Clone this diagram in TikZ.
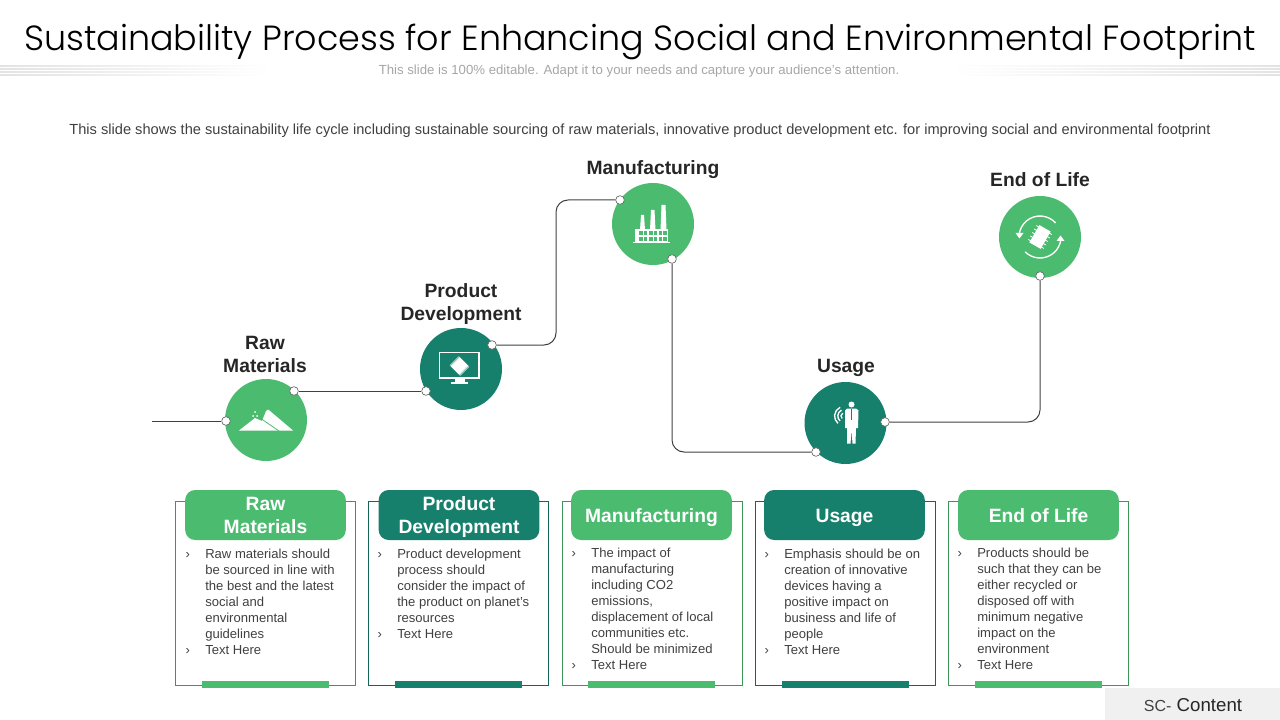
\documentclass[tikz,border=0pt]{standalone}
\usepackage{fontspec}
\setmainfont{Liberation Sans}
\newfontfamily\titlefont{Poppins Light}
\usetikzlibrary{positioning}
\definecolor{lightgreen}{HTML}{4BBB6F}
\definecolor{darkgreen}{HTML}{17806D}
\definecolor{bodygrey}{HTML}{404040}
\tikzstyle{vertex}=[circle,minimum size=61.5pt,inner sep=0pt]
\tikzstyle{port}=[circle,fill=white,draw=bodygrey!80,line width=0.5pt,minimum size=6.5pt,inner sep=0pt]
\tikzstyle{link}=[draw=bodygrey,line width=0.75pt,rounded corners=9pt]
\tikzstyle{caption}=[font=\bfseries\fontsize{14.45}{17.5}\selectfont,text=black!85,align=center]
\tikzstyle{head}=[font=\bfseries\fontsize{14.45}{17.5}\selectfont,text=white,align=center,rounded corners=7.5pt,minimum width=120.5pt,minimum height=37.5pt,inner sep=0pt]
\tikzstyle{body}=[font=\fontsize{9.8}{12}\selectfont,text=bodygrey,align=left,anchor=north west,inner sep=0pt]
\tikzstyle{icon}=[fill=white,draw=none]
\newcommand{\itm}{\leavevmode\makebox[0pt][r]{\raisebox{0.4pt}{›}\hspace{11.5pt}}}
\newcommand{\lstrut}{\rule[-3.35pt]{0pt}{17.5pt}}
\begin{document}
\begin{tikzpicture}[x=0.75pt,y=-0.75pt]
\useasboundingbox (0,0) rectangle (1280,720);

% title block
\foreach \y in {66,69,72,75} {
  \fill[left color=black!11,right color=white] (0,\y-0.5) rectangle (270,\y+0.5);
  \fill[right color=black!11,left color=white] (950,\y-0.5) rectangle (1280,\y+0.5);
}
\node (title) at (640,42) {\titlefont\fontsize{26.2}{32}\selectfont Sustainability Process for Enhancing Social and Environmental Footprint};
\node[text=black!35,font=\fontsize{9.9}{12}\selectfont] (sub) at (639,71) {This slide is 100\% editable. Adapt it to your needs and capture your audience’s attention.};
\node[text=bodygrey,font=\fontsize{10.97}{13}\selectfont] (intro) at (640,131) {This slide shows the sustainability life cycle including sustainable sourcing of raw materials, innovative product development etc. for improving social and environmental footprint};

% the circles and their captions
\foreach \pos/\name/\col in {{(266,420)/raw/lightgreen}, {(461,369)/prod/darkgreen}, {(653,224)/manu/lightgreen}, {(845.5,423)/use/darkgreen}, {(1040,237)/eol/lightgreen}}
    \node[vertex,fill=\col] (\name) at \pos {};
\node[caption] (capraw) at (265,353.5) {\lstrut Raw\\\lstrut Materials};
\node[caption] (capprod) at (461,301.5) {\lstrut Product\\\lstrut Development};
\node[caption] (capmanu) at (653,167) {\lstrut Manufacturing};
\node[caption] (capuse) at (846,365) {\lstrut Usage};
\node[caption] (capeol) at (1040,179) {\lstrut End of Life};

% ports and connectors
\coordinate (start) at (152,421);
\coordinate (bend) at (556,270);
\foreach \pos/\name in {{(226,421)/rawin}, {(294,391)/rawout}, {(426,391)/prodin}, {(492,345)/prodout}, {(620,200)/manuin}, {(672,259)/manuout}, {(816,452)/usein}, {(885,422)/useout}, {(1040,276)/eolin}}
    \node[port] (\name) at \pos {};
\path[link] (start) -- (rawin);
\path[link] (rawout) -- (prodin);
\path[link] (prodout) -| (bend) |- (manuin);
\path[link] (manuout) |- (usein);
\path[link] (useout) -| (eolin);

% cards
\foreach \x/\hx/\bx/\name/\col/\label in {175/265.5/265/cardraw/lightgreen/{\lstrut Raw\\\lstrut Materials}, 368/459/458.5/cardprod/darkgreen/{\lstrut Product\\\lstrut Development}, 562/651.5/651.5/cardmanu/lightgreen/{\lstrut Manufacturing}, 755/844.5/845/carduse/darkgreen/{\lstrut Usage}, 948/1038.5/1038.5/cardeol/lightgreen/{\lstrut End of Life}} {
    \draw[\col!80!black,line width=0.6pt] (\x,501) rectangle (\x+180.5,685);
    \node[head,fill=\col] (\name) at (\hx,515) {\label};
    \fill[\col] (\bx-63.5,681) rectangle (\bx+63.5,688);
}

% card texts
\node[body] (txtraw) at (205,549) {\itm Raw materials should\\be sourced in line with\\the best and the latest\\social and\\environmental\\guidelines\\\itm Text Here};
\node[body] (txtprod) at (397,549) {\itm Product development\\process should\\consider the impact of\\the product on planet’s\\resources\\\itm Text Here};
\node[body] (txtmanu) at (591,548) {\itm The impact of\\manufacturing\\including CO2\\emissions,\\displacement of local\\communities etc.\\Should be minimized\\\itm Text Here};
\node[body] (txtuse) at (784,549) {\itm Emphasis should be on\\creation of innovative\\devices having a\\positive impact on\\business and life of\\people\\\itm Text Here};
\node[body] (txteol) at (977,548) {\itm Products should be\\such that they can be\\either recycled or\\disposed off with\\minimum negative\\impact on the\\environment\\\itm Text Here};

% icon raw materials
\fill[icon] (239,430.5) -- (255,418) -- (262,421) -- (266,411) -- (268,409.5) -- (270,411) -- (293,430.5) -- cycle;
\draw[lightgreen,line width=0.6pt] (260,418) -- (279,431);
\foreach \px/\py in {255/412, 253/416, 257/416}
    \fill[icon] (\px,\py) circle (1);
% icon product development
\draw[white,line width=1.1pt] (439.5,352.5) rectangle (479,378);
\fill[icon] (455,378) rectangle (465,382);
\fill[icon] (451,382) rectangle (468,384);
\fill[icon,rotate around={45:(459.5,366)}] (453,360.5) rectangle (466,371.5);
\foreach \d in {-7,-6,6,7}
    \draw[white,line width=0.4pt,rotate around={45:(459.5,366)}] (453,366+\d) -- (466,366+\d);
% icon manufacturing
\fill[icon] (633,242) rectangle (670,243.5);
\fill[icon] (635,229) rectangle (668,243);
\fill[icon] (640,230) -- (641,215) -- (644,215) -- (645,230) -- cycle;
\fill[icon] (650,230) -- (651,210) -- (654.5,210) -- (655.5,230) -- cycle;
\fill[icon] (660.5,230) -- (661.5,205) -- (665.5,205) -- (666.5,230) -- cycle;
\foreach \wx in {639,649,658.5} \foreach \wy in {231.5,237.5} {
    \fill[lightgreen] (\wx,\wy) rectangle ++(8,4);
    \draw[white,line width=0.5pt] (\wx+4,\wy) -- ++(0,4);
}
% icon end of life
\draw[white,line width=1pt] (eol.center) ++(175:15.75pt) arc[start angle=175,end angle=42,radius=15.75pt];
\draw[white,line width=1pt] (eol.center) ++(-5:15.75pt) arc[start angle=-5,end angle=-135,radius=15.75pt];
\fill[icon] (1015.5,233) -- (1023.5,233) -- (1019.5,238.5) -- cycle;
\fill[icon] (1056.5,241) -- (1064.5,241) -- (1060.5,235.5) -- cycle;
\fill[icon,rotate around={-30:(1040,237)}] (1033.5,227) rectangle (1046.5,247);
\foreach \t in {-8,-4,0,4,8} {
  \draw[white,line width=0.6pt,rotate around={-30:(1040,237)}] (1031,237+\t) -- (1035,237+\t);
  \draw[white,line width=0.6pt,rotate around={-30:(1040,237)}] (1045,237+\t) -- (1049,237+\t);
}
% icon usage
\fill[icon] (851.5,404.5) circle (3);
\fill[icon] (847,408.5) -- (856,408.5) -- (858.5,410.5) -- (858,428) -- (856,428) -- (855.5,443.5) -- (852.5,443.5) -- (851.5,430) -- (850.5,443.5) -- (847,443.5) -- (847,428) -- (845,428) -- (845,410.5) -- cycle;
\draw[darkgreen,line width=0.6pt] (851.5,409) -- (851.5,420);
\foreach \r in {2.4,4.8,7.2}
    \draw[white,line width=1pt] (use.center) ++(-1pt,5.25pt) ++(115:\r pt) arc[start angle=115,end angle=230,radius=\r pt];

% footer tab
\fill[black!6] (1105,688) rectangle (1280,720);
\node[font=\fontsize{14}{16}\selectfont,text=black!85] (foot) at (1193,705) {{\fontsize{12}{14}\selectfont\color{bodygrey}SC-} Content};
\end{tikzpicture}
\end{document}
